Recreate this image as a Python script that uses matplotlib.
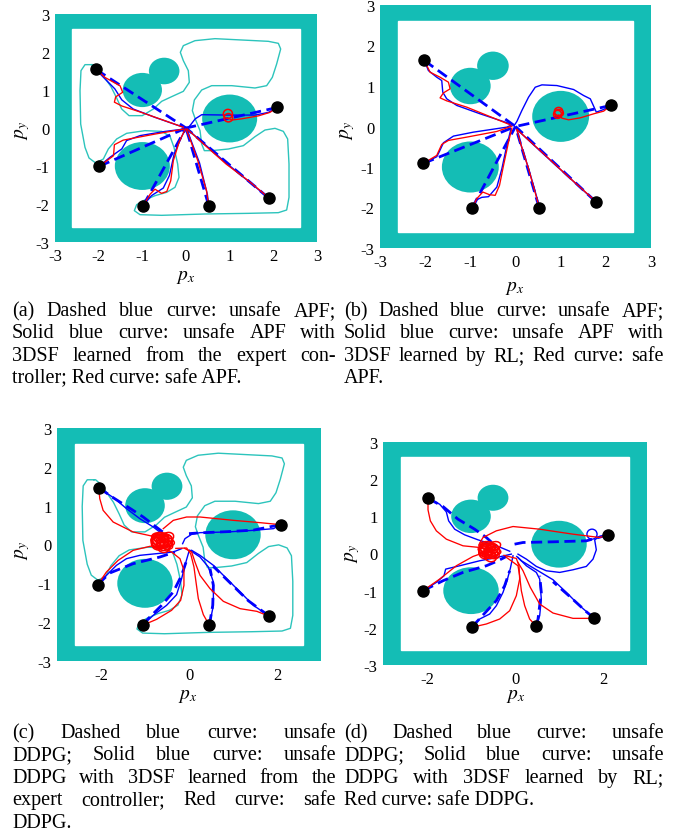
import numpy as np
import matplotlib.pyplot as plt
from matplotlib.patches import Rectangle, Circle, Ellipse

plt.rcParams['font.family'] = ['Liberation Serif', 'DejaVu Serif']
plt.rcParams['mathtext.fontset'] = 'stix'
plt.rcParams['axes.unicode_minus'] = False

W, H = 677, 837
TEAL = '#14bdb5'
CURVE = '#2cc4bc'

# environment: outer wall, free space, round obstacles
wall_half = 3.0
free_half = 2.6
obs_x = [1.0, -1.0, -1.0, -0.5]
obs_y = [0.25, -1.0, 1.0, 1.5]
obs_r = [0.63, 0.63, 0.45, 0.35]
goal = (0.0, 0.0)

# learned safe set boundary (3DSF from expert controller), used in (a) and (c)
learned = [(-2.160, 1.667), (-2.313, 1.667), (-2.405, 1.509), (-2.427, 0.982), (-2.412, 0.105),
           (-2.313, -0.509), (-2.221, -0.789), (-2.069, -0.921), (-1.893, -0.816), (-1.779, -0.553),
           (-1.588, -0.289), (-1.359, -0.140), (-0.939, -0.070), (-0.557, -0.088), (-0.366, -0.219),
           (-0.275, -0.509), (-0.191, -0.947), (-0.160, -1.298), (-0.252, -1.561), (-0.443, -1.693),
           (-0.710, -1.781), (-0.977, -1.912), (-1.130, -2.018), (-1.183, -2.175), (-1.053, -2.281),
           (-0.557, -2.298), (0.435, -2.263), (1.427, -2.246), (2.115, -2.228), (2.305, -2.158),
           (2.359, -1.825), (2.359, -0.947), (2.328, -0.289), (2.229, -0.088), (2.038, -0.009),
           (1.809, -0.053), (1.580, -0.228), (1.313, -0.465), (0.969, -0.553), (0.588, -0.596),
           (0.420, -0.596), (0.359, -0.421), (0.321, -0.070), (0.221, 0.211), (0.145, 0.456),
           (0.191, 0.737), (0.359, 1.0), (0.588, 1.114), (1.046, 1.114), (1.580, 1.053),
           (1.847, 1.114), (1.977, 1.333), (2.076, 1.684), (2.168, 2.079), (2.115, 2.228),
           (1.885, 2.281), (1.275, 2.316), (0.664, 2.351), (0.206, 2.298), (-0.061, 2.167),
           (-0.130, 1.991), (-0.061, 1.772), (0.053, 1.509), (0.076, 1.202), (-0.061, 0.965),
           (-0.328, 0.825), (-0.557, 0.702), (-0.748, 0.500), (-1.0, 0.325), (-1.305, 0.325),
           (-1.473, 0.500), (-1.588, 0.789), (-1.718, 1.088), (-1.870, 1.333), (-2.008, 1.553),
           (-2.122, 1.667), (-2.160, 1.667)]

# ---------------- (a) APF, 3DSF from expert ----------------
starts_a = [(-2.06, 1.54), (-1.99, -1.01), (-0.98, -2.04), (0.52, -2.04), (1.89, -1.84), (2.09, 0.54)]
blue_a = [
    [(-2.06, 1.54), (-1.93, 1.38), (-1.63, 1.03), (-1.47, 0.74), (-1.21, 0.50), (-0.71, 0.28), (-0.06, 0.02)],
    [(-1.99, -1.01), (-1.74, -0.77), (-1.47, -0.55), (-1.36, -0.33), (-1.05, -0.20), (-0.48, -0.09), (-0.06, -0.03)],
    [(-0.98, -2.04), (-0.79, -1.78), (-0.52, -1.58), (-0.38, -1.25), (-0.27, -0.68), (-0.11, -0.25), (-0.01, -0.03)],
    [(0.52, -2.04), (0.49, -1.75), (0.31, -0.92), (0.10, -0.28), (0.02, -0.03)],
    [(1.89, -1.84), (1.45, -1.42), (0.90, -0.90), (0.35, -0.35), (0.03, -0.03)],
    [(2.09, 0.54), (1.885, 0.41), (1.58, 0.34), (0.97, 0.34), (0.36, 0.35), (0.21, 0.24), (0.09, 0.06), (0.02, -0.03)],
]
red_a = [
    [(-2.06, 1.54), (-1.855, 1.33), (-1.51, 1.11), (-1.45, 0.94), (-1.61, 0.82), (-1.64, 0.68), (-1.47, 0.58),
     (-1.02, 0.41), (-0.06, 0.02)],
    [(-1.99, -1.01), (-1.66, -0.73), (-1.64, -0.44), (-1.44, -0.32), (-1.17, -0.26), (-0.71, -0.16), (-0.06, -0.03)],
    [(-0.98, -2.04), (-0.82, -1.74), (-0.71, -1.61), (-0.56, -1.72), (-0.44, -1.67), (-0.35, -1.39), (-0.29, -0.86),
     (-0.16, -0.38), (-0.02, -0.03)],
    [(0.52, -2.04), (0.47, -1.65), (0.27, -0.86), (0.08, -0.25), (0.0, -0.03)],
    [(1.86, -1.80), (1.42, -1.38), (0.92, -0.95), (0.40, -0.42), (0.03, -0.03)],
    [(2.09, 0.54), (1.92, 0.41), (1.66, 0.32), (1.27, 0.24), (1.05, 0.21), (0.96, 0.26)],
]
red_loops_a = [(0.96, 0.37, 0.21, 0.24, 0), (0.97, 0.27, 0.20, 0.22, 0)]

# ---------------- (b) APF, 3DSF by RL ----------------
starts_b = [(-2.02, 1.63), (-2.04, -0.91), (-0.96, -2.01), (0.525, -2.01), (1.775, -1.856), (2.107, 0.519)]
blue_b = [
    [(-2.017, 1.628), (-1.928, 1.381), (-1.744, 1.217), (-1.633, 1.135), (-1.61, 0.847), (-1.522, 0.683),
     (-1.30, 0.52), (-0.783, 0.313), (-0.118, 0.067)],
    [(-2.04, -0.911), (-1.744, -0.747), (-1.684, -0.615), (-1.596, -0.402), (-1.374, -0.237), (-0.93, -0.139),
     (-0.192, -0.016), (-0.081, 0.042)],
    [(-0.96, -2.012), (-0.857, -1.807), (-0.746, -1.749), (-0.598, -1.733), (-0.413, -1.495), (-0.302, -1.043),
     (-0.192, -0.468), (-0.103, -0.073)],
    [(0.525, -2.012), (0.48, -1.78), (0.29, -1.04), (0.10, -0.38), (0.03, -0.07)],
    [(1.775, -1.856), (1.2, -1.27), (0.6, -0.66), (0.03, -0.07)],
    [(2.107, 0.519), (1.952, 0.42), (1.789, 0.354), (1.73, 0.502), (1.656, 0.683), (1.508, 0.765), (1.287, 0.913),
     (0.917, 1.011), (0.585, 1.028), (0.437, 0.97), (0.289, 0.724), (0.141, 0.395), (0.03, 0.124), (-0.029, 0.025)],
]
red_b = [
    [(-2.017, 1.628), (-1.891, 1.34), (-1.67, 1.217), (-1.485, 1.094), (-1.448, 0.929), (-1.596, 0.83),
     (-1.67, 0.707), (-1.522, 0.633), (-1.078, 0.477), (-0.118, 0.042)],
    [(-2.04, -0.911), (-1.744, -0.714), (-1.67, -0.533), (-1.633, -0.443), (-1.485, -0.344), (-1.078, -0.262),
     (-0.413, -0.122), (-0.081, 0.009)],
    [(-0.96, -2.012), (-0.857, -1.782), (-0.724, -1.618), (-0.576, -1.684), (-0.45, -1.70), (-0.354, -1.454),
     (-0.265, -0.961), (-0.155, -0.385), (-0.081, -0.04)],
    [(0.525, -2.012), (0.474, -1.782), (0.289, -1.043), (0.104, -0.385), (0.03, -0.073)],
    [(1.76, -1.83), (1.18, -1.25), (0.6, -0.65), (0.03, -0.073)],
    [(2.107, 0.519), (1.952, 0.379), (1.73, 0.313), (1.435, 0.214), (1.176, 0.165), (1.028, 0.206), (0.95, 0.28)],
]
red_loops_b = [(0.954, 0.371, 0.185, 0.20, 0), (0.932, 0.30, 0.18, 0.20, 0), (0.96, 0.33, 0.20, 0.18, 0)]

# ---------------- (c) DDPG, 3DSF from expert ----------------
starts_c = [(-2.051, 1.464), (-2.074, -1.034), (-1.056, -2.082), (0.463, -2.082), (1.829, -1.85), (2.08, 0.511)]
dash_c = [
    [(-2.051, 1.464), (-1.724, 1.206), (-1.307, 0.906), (-1.041, 0.708), (-0.775, 0.476), (-0.547, 0.279)],
    [(-2.074, -1.034), (-1.8, -0.734), (-1.269, -0.494), (-0.661, -0.322), (-0.32, -0.193)],
    [(-1.056, -2.082), (-0.927, -1.91), (-0.623, -1.567), (-0.358, -1.223), (-0.168, -0.794), (-0.054, -0.408)],
    [(0.463, -2.082), (0.539, -1.567), (0.554, -1.052), (0.478, -0.622)],
    [(1.829, -1.85), (1.35, -1.45), (0.9, -0.95), (0.55, -0.56)],
    [(2.08, 0.511), (1.465, 0.37), (0.857, 0.33), (0.25, 0.30), (0.0, 0.28)],
]
blue_c = [
    [(-2.051, 1.464), (-1.686, 1.18), (-1.42, 0.923), (-1.117, 0.665), (-0.813, 0.451), (-0.547, 0.219)],
    [(-2.074, -1.034), (-1.876, -0.794), (-1.648, -0.536), (-1.421, -0.365), (-1.117, -0.279), (-0.737, -0.236),
     (-0.358, -0.193), (-0.168, -0.107)],
    [(-1.056, -2.082), (-0.813, -1.824), (-0.51, -1.567), (-0.282, -1.292), (-0.168, -0.88), (-0.092, -0.536),
     (0.007, -0.15)],
    [(0.463, -2.082), (0.554, -1.567), (0.554, -0.966), (0.44, -0.579), (0.25, -0.322), (0.022, -0.15)],
    [(1.829, -1.85), (1.465, -1.567), (1.161, -1.223), (0.857, -0.88), (0.554, -0.536), (0.25, -0.279), (0.06, -0.15)],
    [(2.08, 0.511), (1.92, 0.408), (1.465, 0.365), (0.857, 0.322), (0.25, 0.305), (0.06, 0.262), (-0.092, 0.15),
     (-0.145, 0.021)],
]
red_c = [
    [(-2.051, 1.464), (-2.028, 1.18), (-1.952, 0.88), (-1.724, 0.579), (-1.269, 0.322), (-0.851, 0.219), (-0.699, 0.167)],
    [(-2.074, -1.034), (-1.876, -0.708), (-1.61, -0.408), (-1.269, -0.15), (-0.889, -0.047), (-0.585, -0.021)],
    [(-1.056, -2.082), (-0.737, -1.927), (-0.396, -1.695), (-0.19, -1.438), (-0.115, -1.052), (-0.115, -0.665),
     (-0.206, -0.365), (-0.396, -0.193), (-0.547, -0.124)],
    [(0.463, -2.082), (0.326, -1.807), (0.212, -1.395), (0.159, -0.966), (0.113, -0.579), (0.037, -0.236),
     (-0.054, -0.09), (-0.3, -0.1)],
    [(1.829, -1.85), (1.541, -1.721), (1.161, -1.652), (0.781, -1.464), (0.478, -1.137), (0.25, -0.794),
     (0.136, -0.451), (0.06, -0.193), (-0.1, -0.1)],
    [(2.08, 0.511), (1.617, 0.562), (1.01, 0.622), (0.25, 0.708), (-0.054, 0.708), (-0.357, 0.622), (-0.585, 0.408)],
]
red_loops_c = [(-0.62, 0.10, 0.48, 0.34, 15), (-0.55, 0.05, 0.34, 0.42, -25), (-0.70, 0.02, 0.30, 0.32, 0),
               (-0.50, 0.18, 0.32, 0.24, 30), (-0.66, 0.20, 0.38, 0.22, 0), (-0.58, -0.06, 0.28, 0.30, 45),
               (-0.74, 0.10, 0.22, 0.36, 0), (-0.60, 0.08, 0.54, 0.26, -10), (-0.52, 0.0, 0.22, 0.32, 60),
               (-0.68, 0.12, 0.32, 0.28, -40), (-0.64, 0.04, 0.18, 0.18, 0), (-0.56, 0.14, 0.22, 0.16, 20),
               (-0.70, 0.16, 0.16, 0.22, -15), (-0.60, -0.02, 0.30, 0.16, 5), (-0.53, 0.10, 0.14, 0.24, 0),
               (-0.66, 0.08, 0.42, 0.32, 35), (-0.61, 0.12, 0.12, 0.14, 0), (-0.57, 0.06, 0.36, 0.20, -30)]

# ---------------- (d) DDPG, 3DSF by RL ----------------
starts_d = [(-1.977, 1.487), (-2.091, -1.002), (-0.985, -1.987), (0.477, -1.951), (1.803, -1.745), (2.114, 0.502)]
dash_d = [
    [(-1.977, 1.487), (-1.636, 1.263), (-1.295, 0.923), (-0.917, 0.654), (-0.652, 0.431), (-0.462, 0.225)],
    [(-2.091, -1.002), (-1.636, -0.733), (-1.182, -0.509), (-0.652, -0.33), (-0.386, -0.196), (-0.197, -0.08)],
    [(-0.985, -1.987), (-0.727, -1.655), (-0.424, -1.27), (-0.235, -0.867), (-0.121, -0.465)],
    [(0.477, -1.951), (0.523, -1.763), (0.598, -1.047), (0.561, -0.599)],
    [(1.803, -1.745), (1.621, -1.566), (1.242, -1.154), (0.864, -0.76)],
    [(2.114, 0.502), (1.621, 0.341), (0.864, 0.314), (0.182, 0.296), (-0.121, 0.225)],
]
blue_d = [
    [(-1.977, 1.487), (-1.712, 1.326), (-1.561, 1.12), (-1.508, 0.878), (-1.371, 0.654), (-1.144, 0.502),
     (-0.841, 0.368), (-0.538, 0.252), (-0.3, 0.15), (-0.12, 0.06)],
    [(-2.091, -1.002), (-1.788, -0.778), (-1.614, -0.599), (-1.576, -0.42), (-1.258, -0.33), (-0.803, -0.196),
     (-0.348, -0.089), (-0.083, -0.017)],
    [(-0.985, -1.987), (-0.803, -1.763), (-0.576, -1.628), (-0.424, -1.405), (-0.273, -1.047), (-0.182, -0.733),
     (-0.106, -0.402), (-0.045, -0.062)],
    [(0.477, -1.951), (0.561, -1.673), (0.598, -1.226), (0.561, -0.688), (0.485, -0.509), (0.258, -0.33), (0.068, -0.107)],
    [(1.803, -1.745), (1.47, -1.405), (1.167, -1.047), (0.864, -0.706), (0.561, -0.491), (0.333, -0.33),
     (0.144, -0.196), (0.04, -0.08)],
    [(2.114, 0.502), (1.924, 0.458), (1.811, 0.368), (1.848, 0.099), (1.773, -0.151), (1.621, -0.348), (1.318, -0.438),
     (1.015, -0.509), (0.712, -0.465), (0.485, -0.348), (0.258, -0.151), (0.068, -0.017)],
]
red_d = [
    [(-1.977, 1.487), (-1.977, 1.174), (-1.924, 0.878), (-1.788, 0.61), (-1.561, 0.386), (-1.182, 0.207), (-0.803, 0.162)],
    [(-2.091, -1.002), (-1.712, -0.688), (-1.333, -0.33), (-0.955, -0.08), (-0.652, 0.046)],
    [(-0.985, -1.987), (-0.652, -1.897), (-0.348, -1.763), (-0.121, -1.539), (0.03, -1.136), (0.106, -0.688),
     (0.091, -0.33), (0.03, -0.133), (-0.25, -0.05)],
    [(0.477, -1.951), (0.333, -1.763), (0.22, -1.405), (0.144, -1.002), (0.106, -0.599), (0.068, -0.33), (-0.2, -0.1)],
    [(1.803, -1.745), (1.318, -1.745), (0.864, -1.602), (0.561, -1.36), (0.348, -0.912), (0.182, -0.465), (0.068, -0.241)],
    [(2.114, 0.502), (1.924, 0.431), (1.318, 0.52), (0.561, 0.654), (-0.045, 0.726), (-0.424, 0.61), (-0.727, 0.431),
     (-0.803, 0.278)],
]
red_loops_d = [(-0.60, 0.12, 0.44, 0.32, 10), (-0.52, 0.06, 0.32, 0.40, -20), (-0.68, 0.02, 0.28, 0.32, 0),
               (-0.48, 0.20, 0.32, 0.22, 25), (-0.64, 0.22, 0.36, 0.20, 0), (-0.56, -0.08, 0.26, 0.30, 40),
               (-0.72, 0.10, 0.20, 0.34, 0), (-0.58, 0.08, 0.52, 0.24, -10), (-0.50, -0.02, 0.22, 0.30, 60),
               (-0.66, 0.14, 0.30, 0.26, -35), (-0.62, 0.04, 0.18, 0.18, 0), (-0.55, 0.15, 0.22, 0.16, 20),
               (-0.70, 0.16, 0.16, 0.22, -15), (-0.60, -0.03, 0.30, 0.16, 5), (-0.64, 0.09, 0.40, 0.30, 35),
               (-0.59, 0.10, 0.12, 0.14, 0), (-0.55, 0.04, 0.34, 0.20, -30)]
blue_loops_d = [(1.75, 0.52, 0.23, 0.27, 0)]

ticks_full = [-3, -2, -1, 0, 1, 2, 3]
ticks_sparse = [-2, 0, 2]

captions_a = ["(a) Dashed blue curve: unsafe APF;", "Solid blue curve: unsafe APF with",
              "3DSF learned from the expert con-", "troller; Red curve: safe APF."]
captions_b = ["(b) Dashed blue curve: unsafe APF;", "Solid blue curve: unsafe APF with",
              "3DSF learned by RL; Red curve: safe", "APF."]
captions_c = ["(c) Dashed blue curve: unsafe", "DDPG; Solid blue curve: unsafe",
              "DDPG with 3DSF learned from the", "expert controller; Red curve: safe", "DDPG."]
captions_d = ["(d) Dashed blue curve: unsafe", "DDPG; Solid blue curve: unsafe",
              "DDPG with 3DSF learned by RL;", "Red curve: safe DDPG."]


def px_axes(fig, left, top, right, bottom):
    return fig.add_axes([left / W, 1 - bottom / H, (right - left) / W, (bottom - top) / H])


def draw_panel(ax, starts, blue, red, dashed=None, red_loops=(), blue_loops=(), boundary=None, xticks=ticks_full):
    ax.add_patch(Rectangle((-wall_half, -wall_half), 2 * wall_half, 2 * wall_half, color=TEAL, zorder=0))
    ax.add_patch(Rectangle((-free_half, -free_half), 2 * free_half, 2 * free_half, color='white', zorder=0.5))
    for cx, cy, r in zip(obs_x, obs_y, obs_r):
        ax.add_patch(Circle((cx, cy), r, color=TEAL, lw=0, zorder=1))

    if boundary is not None:
        b = np.array(boundary)
        ax.plot(b[:, 0], b[:, 1], color=CURVE, lw=1.0, zorder=2)

    if dashed is None:
        # APF without safety filter goes straight to the goal
        dashed = [[s, goal] for s in starts]
    for p in dashed:
        p = np.array(p)
        ax.plot(p[:, 0], p[:, 1], color='blue', lw=2.0, ls=(0, (4, 2)), zorder=3)
    for p in blue:
        p = np.array(p)
        ax.plot(p[:, 0], p[:, 1], color='blue', lw=1.0, zorder=4)
    for p in red:
        p = np.array(p)
        ax.plot(p[:, 0], p[:, 1], color='red', lw=0.95, zorder=5)
    for cx, cy, w, h, ang in red_loops:
        ax.add_patch(Ellipse((cx, cy), w, h, angle=ang, fill=False, ec='red', lw=1.1, zorder=5))
    for cx, cy, w, h, ang in blue_loops:
        ax.add_patch(Ellipse((cx, cy), w, h, angle=ang, fill=False, ec='blue', lw=1.0, zorder=4))

    s = np.array(starts)
    ax.plot(s[:, 0], s[:, 1], 'o', color='black', ms=8, zorder=6)

    ax.set_xlim(-3, 3)
    ax.set_ylim(-3, 3)
    ax.set_xticks(xticks)
    ax.set_yticks(ticks_full)
    ax.tick_params(length=0, labelsize=12, pad=4)
    for sp in ax.spines.values():
        sp.set_visible(False)


def put_caption(fig, lines, x0, x1, y_first, step, size=14.5):
    # justified paragraph, last line left aligned
    r = fig.canvas.get_renderer()
    for i, line in enumerate(lines):
        yb = 1 - (y_first + i * step) / H
        words = line.split(' ')
        if i == len(lines) - 1 or len(words) == 1:
            fig.text(x0 / W, yb, line, fontsize=size, va='baseline', ha='left')
            continue
        ts = [fig.text(0, yb, w, fontsize=size, va='baseline', ha='left') for w in words]
        widths = [t.get_window_extent(r).width for t in ts]
        gap = (x1 - x0 - sum(widths)) / (len(words) - 1)
        x = x0
        for t, w in zip(ts, widths):
            t.set_x(x / W)
            x += w + gap


fig = plt.figure(figsize=(W / 100, H / 100), dpi=100)

ax_a = px_axes(fig, 55, 15, 317, 243)
draw_panel(ax_a, starts_a, blue_a, red_a, red_loops=red_loops_a, boundary=learned)
ax_b = px_axes(fig, 380, 6, 651, 249)
draw_panel(ax_b, starts_b, blue_b, red_b, red_loops=red_loops_b)
ax_c = px_axes(fig, 57, 429, 321, 662)
draw_panel(ax_c, starts_c, blue_c, red_c, dashed=dash_c, red_loops=red_loops_c, boundary=learned,
           xticks=ticks_sparse)
ax_d = px_axes(fig, 383, 443, 647, 666)
draw_panel(ax_d, starts_d, blue_d, red_d, dashed=dash_d, red_loops=red_loops_d, blue_loops=blue_loops_d,
           xticks=ticks_sparse)

# axis labels
for (x, y) in [(186, 277), (515, 289), (188, 697), (516, 697)]:
    fig.text(x / W, 1 - y / H, r'$p_x$', fontsize=14, ha='center', va='center')
for (x, y) in [(23, 130), (348, 130), (23, 550), (353, 553)]:
    fig.text(x / W, 1 - y / H, r'$p_y$', fontsize=14, ha='center', va='center', rotation=90)

put_caption(fig, captions_a, 12, 336, 316, 22.5)
put_caption(fig, captions_b, 344, 664, 316, 22.5)
put_caption(fig, captions_c, 12, 336, 738, 22.5)
put_caption(fig, captions_d, 344, 664, 738, 22.5)

fig.savefig('out.png', dpi=100)
